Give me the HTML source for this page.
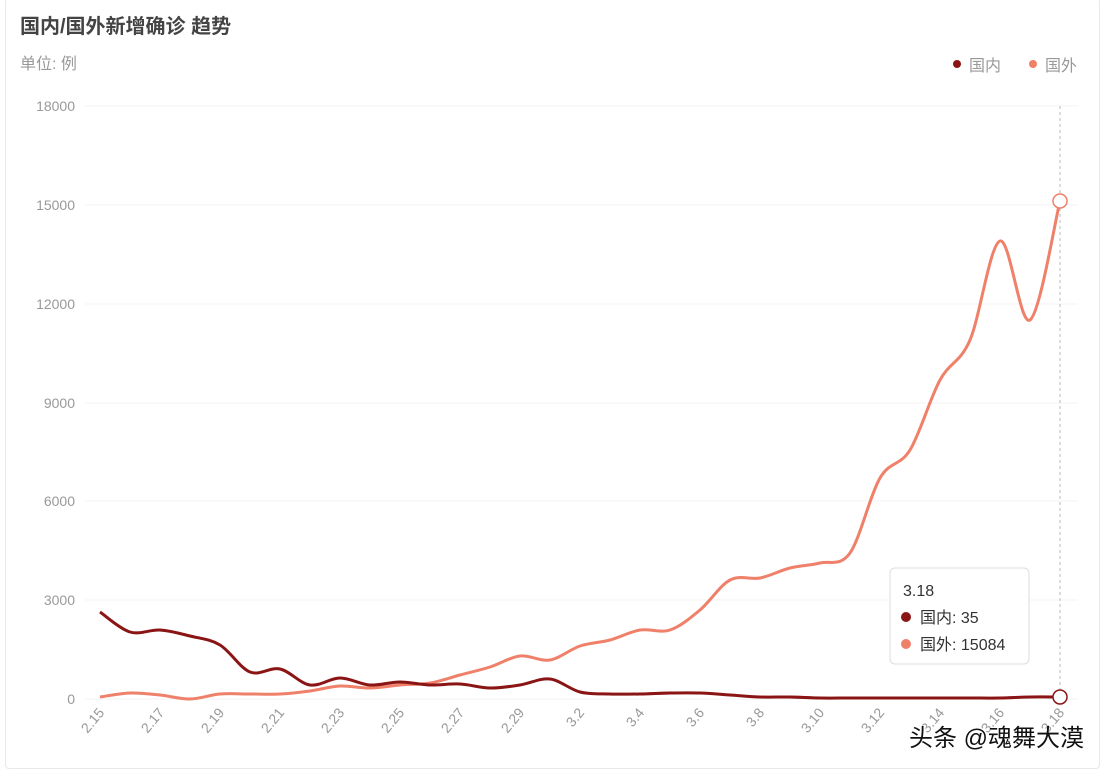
<!DOCTYPE html>
<html><head><meta charset="utf-8"><style>
body{margin:0;background:#fff;font-family:"Liberation Sans","Noto Sans CJK SC",sans-serif;}
.card{position:absolute;left:5px;top:-2px;width:1093px;height:769px;border:1px solid #e8e8e8;border-radius:4px;}
</style></head><body>
<div class="card"></div>
<svg id="s" width="1105" height="770" style="position:absolute;left:0;top:0" font-family="Liberation Sans, Noto Sans CJK SC, sans-serif">
<text x="20" y="33" font-size="20" font-weight="bold" fill="#444">国内/国外新增确诊 趋势</text>
<text x="20" y="69" font-size="16" fill="#999">单位: 例</text>
<circle cx="957" cy="64" r="4" fill="#8b1414"/><text x="969" y="71" font-size="16" fill="#999">国内</text>
<circle cx="1033" cy="64" r="4" fill="#ef806a"/><text x="1045" y="71" font-size="16" fill="#999">国外</text>
<g stroke="#f3f3f3" stroke-width="1">
<line x1="85" x2="1078" y1="106" y2="106"/><line x1="85" x2="1078" y1="205" y2="205"/><line x1="85" x2="1078" y1="304" y2="304"/><line x1="85" x2="1078" y1="403" y2="403"/><line x1="85" x2="1078" y1="501" y2="501"/><line x1="85" x2="1078" y1="600" y2="600"/><line x1="85" x2="1078" y1="699" y2="699"/>
</g>
<g font-size="14" fill="#999" text-anchor="end">
<text x="75" y="111">18000</text><text x="75" y="210">15000</text><text x="75" y="309">12000</text><text x="75" y="408">9000</text><text x="75" y="506">6000</text><text x="75" y="605">3000</text><text x="75" y="704">0</text>
</g>
<g id="xl" font-size="14" fill="#999" text-anchor="end"></g>
<line x1="1060" y1="106" x2="1060" y2="699" stroke="#bbb" stroke-dasharray="3,3"/>
<path id="f" fill="none" stroke="#ef806a" stroke-width="3"/>
<path id="d" fill="none" stroke="#8b1414" stroke-width="3"/>
<circle cx="1060" cy="201" r="7" fill="#fff" stroke="#ef806a" stroke-width="1.5"/>
<circle cx="1060" cy="697" r="7" fill="#fff" stroke="#8b1414" stroke-width="1.5"/>
<rect x="890" y="568" width="139" height="96" rx="5" fill="#fff" stroke="#ddd"/>
<text x="903" y="596" font-size="16" fill="#333">3.18</text>
<circle cx="906" cy="617" r="5" fill="#8b1414"/><text x="920" y="623" font-size="16" fill="#333">国内: 35</text>
<circle cx="906" cy="644" r="5" fill="#ef806a"/><text x="920" y="650" font-size="16" fill="#333">国外: 15084</text>
<text x="1084" y="746" font-size="24" fill="#111" text-anchor="end" stroke="#fff" stroke-width="0.6" paint-order="stroke">头条 @魂舞大漠</text>
</svg>
<script>
var D=[612,632,630,636,645,672,669,685,678,685,682,685,684,688,685,679,692,694,694,693,693,695,697,697,698,698,698,698,698,698,698,697,697];
var F=[697,693,695,699,694,694,694,691,686,688,685,683,675,667,656,660,646,640,630,630,610,580,578,568,563,553,478,450,380,340,241,320,201];
function p(a){var pts=a.map(function(y,i){return[100+30*i,y]});var s="M"+pts[0];for(var i=0;i<pts.length-1;i++){var p0=pts[i-1]||pts[i],p1=pts[i],p2=pts[i+1],p3=pts[i+2]||p2;s+=" C"+(p1[0]+(p2[0]-p0[0])/6)+","+(p1[1]+(p2[1]-p0[1])/6)+" "+(p2[0]-(p3[0]-p1[0])/6)+","+(p2[1]-(p3[1]-p1[1])/6)+" "+p2;}return s;}
document.getElementById('d').setAttribute('d',p(D));
document.getElementById('f').setAttribute('d',p(F));
var labs=["2.15","2.17","2.19","2.21","2.23","2.25","2.27","2.29","3.2","3.4","3.6","3.8","3.10","3.12","3.14","3.16","3.18"];
var g=document.getElementById('xl'),h="";
labs.forEach(function(l,i){var x=105+60*i,y=713;h+='<text x="'+x+'" y="'+y+'" transform="rotate(-50 '+x+' '+y+')">'+l+'</text>';});
g.innerHTML=h;
</script>
</body></html>
